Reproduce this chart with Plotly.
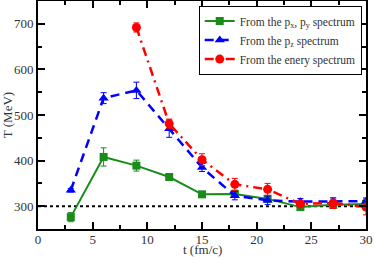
import plotly.graph_objects as go

t_green = [3, 6, 9, 12, 15, 18, 21, 24, 27, 30]
T_green = [276, 408, 389, 364, 326, 327, 316, 298, 303, 305]
E_green = [10, 20, 12, 5, 5, 5, 5, 7, 7, 7]

t_blue = [3, 6, 9, 12, 15, 18, 21, 24, 27, 30]
T_blue = [335, 537, 554, 470, 385, 323, 313, 310, 311, 311]
E_blue = [4, 12, 18, 19, 9, 9, 9, 7, 7, 7]

t_red = [9, 12, 15, 18, 21, 24, 27, 30]
T_red = [692, 481, 402, 348, 337, 305, 307, 298]
E_red = [10, 10, 13, 13, 13, 8, 12, 17]

ref_x = [0, 30]
ref_y = [300, 300]

font = "Liberation Serif"

fig = go.Figure()
fig.add_trace(go.Scatter(x=ref_x, y=ref_y, mode="lines",
                         line=dict(color="black", width=2, dash="dot"),
                         showlegend=False, hoverinfo="skip"))
fig.add_trace(go.Scatter(
    x=t_green, y=T_green, mode="lines+markers",
    name="From the p<sub>x</sub>, p<sub>y</sub> spectrum",
    line=dict(color="#1a8c1a", width=2),
    marker=dict(symbol="square", size=8, color="#1a8c1a"),
    error_y=dict(type="data", array=E_green, color="#1a8c1a", thickness=1, width=3)))
fig.add_trace(go.Scatter(
    x=t_blue, y=T_blue, mode="lines+markers",
    name="From the p<sub>z</sub> spectrum",
    line=dict(color="#0000ff", width=2.5, dash="9px,6px"),
    marker=dict(symbol="triangle-up", size=9, color="#0000ff"),
    error_y=dict(type="data", array=E_blue, color="#0000ff", thickness=1, width=3)))
fig.add_trace(go.Scatter(
    x=t_red, y=T_red, mode="lines+markers",
    name="From the enery spectrum",
    line=dict(color="#ff0000", width=2.5, dash="9px,5px,2px,5px"),
    marker=dict(symbol="circle", size=9, color="#ff0000"),
    error_y=dict(type="data", array=E_red, color="#ff0000", thickness=1, width=3)))

axis_common = dict(showline=True, linecolor="black", linewidth=2, mirror="allticks",
                   ticks="inside", ticklen=7, tickwidth=1.5, tickcolor="black",
                   showgrid=False, zeroline=False, automargin=False,
                   tickfont=dict(family=font, size=13, color="#333"))
fig.update_xaxes(range=[0, 30], dtick=5, tick0=0, ticklabelstandoff=-3,
                 minor=dict(dtick=2.5, ticks="inside", ticklen=4, tickcolor="black", tickwidth=1.5),
                 **axis_common)
fig.update_yaxes(range=[250, 750], dtick=100, tick0=300,
                 minor=dict(dtick=50, ticks="inside", ticklen=4, tickcolor="black", tickwidth=1.5),
                 title=dict(text="T (MeV)", font=dict(family=font, size=13, color="#333"), standoff=2),
                 **axis_common)
fig.add_annotation(text="t (fm/c)", xref="paper", yref="paper", x=0.5, y=0,
                   xanchor="center", yanchor="top", yshift=-12, showarrow=False,
                   borderpad=0,
                   font=dict(family=font, size=13, color="#333"))
fig.update_layout(
    width=374, height=259,
    margin=dict(l=38, r=8, t=1, b=30),
    plot_bgcolor="white", paper_bgcolor="white",
    font=dict(family=font, color="#333"),
    legend=dict(x=0.49, y=0.98, xanchor="left", yanchor="top",
                bgcolor="white", bordercolor="black", borderwidth=1,
                font=dict(family=font, size=11.5, color="#333"),
                tracegroupgap=0, itemwidth=30),
)
fig.write_html("out.html", config={"displayModeBar": False},
               post_script="document.body.style.margin='0';document.body.style.overflow='hidden';")
